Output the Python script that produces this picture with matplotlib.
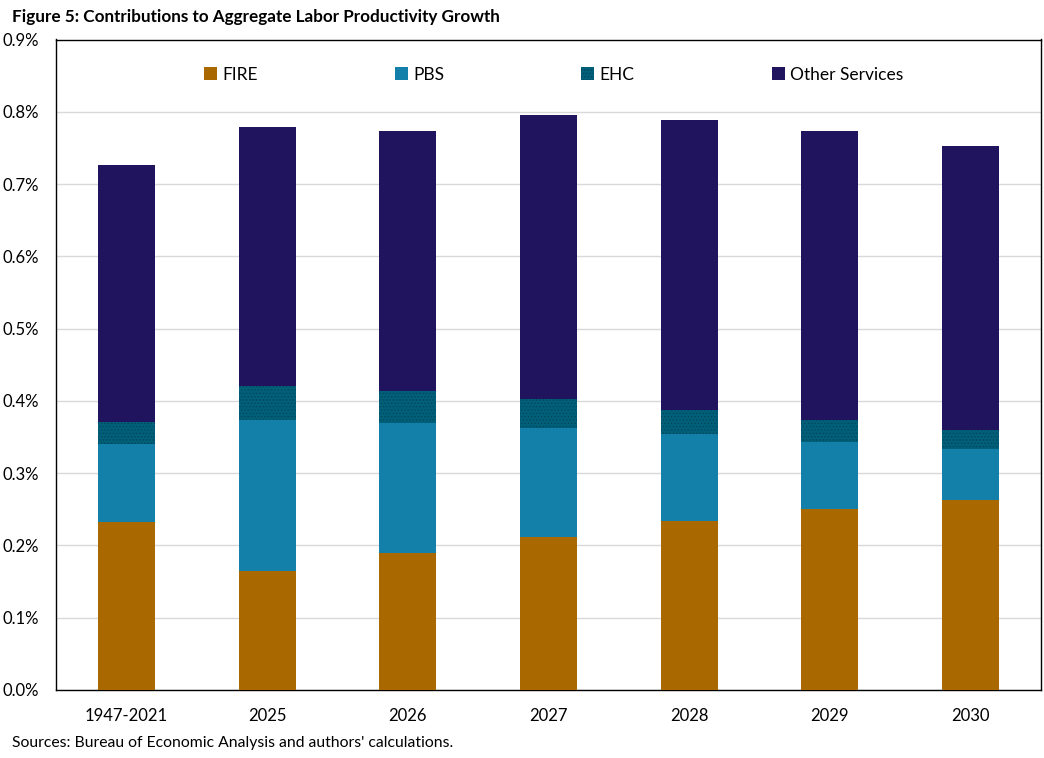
import numpy as np
import matplotlib.pyplot as plt
from matplotlib.ticker import FuncFormatter, MultipleLocator

plt.rcParams['font.family'] = ['Lato', 'DejaVu Sans']
plt.rcParams['hatch.linewidth'] = 0.6

# values (percentage points)
categories = ['1947-2021', '2025', '2026', '2027', '2028', '2029', '2030']
fire = [0.233, 0.165, 0.190, 0.212, 0.234, 0.250, 0.263]
pbs = [0.108, 0.208, 0.179, 0.151, 0.120, 0.093, 0.071]
ehc = [0.030, 0.047, 0.045, 0.040, 0.034, 0.031, 0.026]
other = [0.356, 0.359, 0.359, 0.392, 0.400, 0.399, 0.392]

series = [('FIRE', fire, '#AA6800'),
          ('PBS', pbs, '#1380AA'),
          ('EHC', ehc, '#00607A'),
          ('Other Services', other, '#20145E')]

fig = plt.figure(figsize=(10.44, 7.58), dpi=100)
ax = fig.add_axes([56 / 1044, 1 - 690 / 758, 985 / 1044, 650.5 / 758])

x = np.arange(len(categories))
bottom = np.zeros(len(categories))
for name, vals, col in series:
    vals = np.array(vals)
    if name == 'EHC':
        ax.bar(x, vals, 0.405, bottom=bottom, color=col, edgecolor='#004658',
               hatch='.....', linewidth=0, label=name, zorder=3)
    else:
        ax.bar(x, vals, 0.405, bottom=bottom, color=col, linewidth=0,
               label=name, zorder=3)
    bottom += vals

ax.set_xlim(-0.5, len(categories) - 0.5)
ax.set_ylim(0, 0.9)
ax.yaxis.set_major_locator(MultipleLocator(0.1))
ax.yaxis.set_major_formatter(FuncFormatter(lambda v, p: f'{v:.1f}%'))
ax.set_xticks(x)
ax.set_xticklabels(categories)
ax.tick_params(axis='both', length=0, labelsize=12, colors='black')
ax.tick_params(axis='x', pad=13)
ax.tick_params(axis='y', pad=12.5)
ax.grid(axis='y', color='#D9D9D9', linewidth=1, zorder=0)
for s in ax.spines.values():
    s.set_color('black')
    s.set_linewidth(1)

ax.legend(loc='center', bbox_to_anchor=(0.505, 1 - 35 / 650.5), ncol=4,
          frameon=False, fontsize=12.5, handlelength=0.75, handleheight=0.75,
          handletextpad=0.3, columnspacing=7.9)

fig.text(12 / 1044, 1 - 17 / 758, 'Figure 5: Contributions to Aggregate Labor Productivity Growth',
         fontsize=12.3, fontweight='bold', va='center', ha='left')
fig.text(12 / 1044, 1 - 743 / 758, "Sources: Bureau of Economic Analysis and authors' calculations.",
         fontsize=11.3, va='center', ha='left')

fig.savefig('out.png', dpi=100)
